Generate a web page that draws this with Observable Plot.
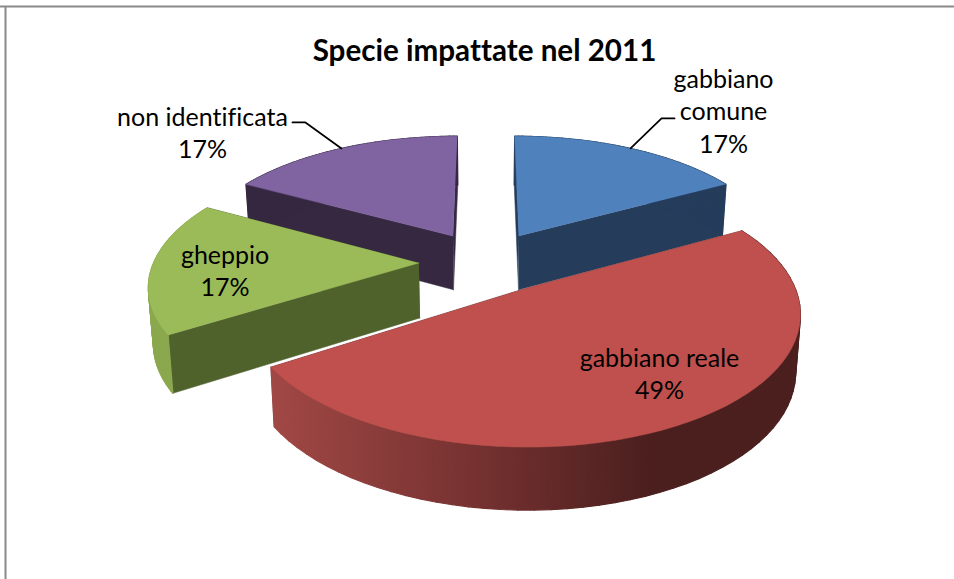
<!DOCTYPE html>
<html><head><meta charset="utf-8">
<style>html,body{margin:0;padding:0;background:#fff}svg{display:block}</style>
<script src="https://cdn.jsdelivr.net/npm/d3@7"></script>
<script src="https://cdn.jsdelivr.net/npm/@observablehq/plot@0.6"></script>
</head><body><div id="chart"></div>
<script>
const title = "Specie impattate nel 2011";
const categories = ["gabbiano comune", "gabbiano reale", "gheppio", "non identificata"];
const labelLines = ["gabbiano\ncomune", "gabbiano reale", "gheppio", "non identificata"];
const shares = [17, 49, 17, 17];
const topColors = ["#4F81BD", "#C0504D", "#9BBB59", "#8064A2"];
const cutColors = ["#253D5B", "#5A2322", "#4F622C", "#352840"];
const wallColors = ["#253D5B", "url(#redWall)", "#8BA84F", "#352840"];
const drawOrder = [3, 0, 2, 1];

// layout of the tilted, exploded disc
const W = 954, H = 579;
const view = {cx: 485.5, cy: 261.4, rx: 265, ry: 123, tilt: 0.157, explode: 0.253,
              depth: 55, depthTilt: 0.105, baseScale: 0.985};
// label offsets from the rim point at each slice's bisector
const labelOffset = [[93, -38.5], [-30, -49], [73, 3], [-139, -17]];
const leaderOffset = [[[31, -30], [44, -30]], null, null, [[-36, -26], [-49, -26]]];

const pie = d3.pie().sort(null).value(d => d)(shares);
const toTop = (U, V) => {
  const w = 1 - view.tilt * V;
  return {x: view.cx + view.rx * U / w, y: view.cy + view.ry * V / w, V};
};
const toBase = p => ({
  x: view.cx + (p.x - view.cx) * view.baseScale,
  y: p.y + view.depth / (1 - view.depthTilt * p.V)
});
const rim = (s, a, r = 1) => {
  const mid = (s.startAngle + s.endAngle) / 2;
  return toTop(r * Math.sin(a) + view.explode * Math.sin(mid),
               -r * Math.cos(a) - view.explode * Math.cos(mid));
};
const arcPts = s => d3.range(0, 61).map(k =>
  rim(s, s.startAngle + (s.endAngle - s.startAngle) * k / 60));
const poly = (pts, fill, strokeWidth = 0.5) => Plot.line(pts, {x: "x", y: "y", z: "q", fill, stroke: fill, strokeWidth});

// the outer wall is a strip of closed quads so that its silhouette follows the extrusion
const wallStrip = arc => arc.slice(1).flatMap((p, k) => {
  const a = arc[k];
  return [a, p, toBase(p), toBase(a), a].map(c => ({x: c.x, y: c.y, q: k}));
});

const sliceMarks = drawOrder.flatMap(i => {
  const s = pie[i];
  const apex = rim(s, 0, 0);
  const arc = arcPts(s);
  const first = arc[0], last = arc[arc.length - 1];
  return [
    poly([apex, last, toBase(last), toBase(apex)], cutColors[i]),
    poly([apex, first, toBase(first), toBase(apex)], cutColors[i]),
    poly(wallStrip(arc), wallColors[i], 1.2),
    poly([apex, ...arc], topColors[i])
  ];
});

const bisect = s => rim(s, (s.startAngle + s.endAngle) / 2);
const labelMarks = pie.map((s, i) => {
  const a = bisect(s);
  return Plot.text([`${labelLines[i]}\n${shares[i]}%`], {
    x: () => a.x + labelOffset[i][0],
    y: () => a.y + labelOffset[i][1],
    text: d => d, textAnchor: "middle", lineAnchor: "middle", lineHeight: 1.3,
    fontFamily: "Lato", fontSize: 25, fill: "#000"
  });
});
const leaderMarks = pie.flatMap((s, i) => {
  if (!leaderOffset[i]) return [];
  const a = bisect(s);
  const pts = [a, ...leaderOffset[i].map(([dx, dy]) => ({x: a.x + dx, y: a.y + dy}))];
  return [Plot.line(pts, {x: "x", y: "y", stroke: "#000", strokeWidth: 1.7})];
});

const redGradient = () => {
  const svgNS = "http://www.w3.org/2000/svg";
  const defs = document.createElementNS(svgNS, "defs");
  const g = document.createElementNS(svgNS, "linearGradient");
  const [x0, x1] = d3.extent(arcPts(pie[1]), d => d.x);
  g.setAttribute("id", "redWall");
  g.setAttribute("gradientUnits", "userSpaceOnUse");
  g.setAttribute("x1", x0); g.setAttribute("x2", x1);
  g.setAttribute("y1", 0); g.setAttribute("y2", 0);
  [[0, "#A14845"], [0.43, "#702F2E"], [0.72, "#4A1F1E"], [1, "#4A1F1E"]].forEach(([o, c]) => {
    const st = document.createElementNS(svgNS, "stop");
    st.setAttribute("offset", o); st.setAttribute("stop-color", c);
    g.appendChild(st);
  });
  defs.appendChild(g);
  return defs;
};

const chart = Plot.plot({
  width: W, height: H, margin: 0,
  style: {background: "#fff", fontVariantLigatures: "none"},
  x: {domain: [0, W], range: [0, W], axis: null},
  y: {domain: [0, H], range: [0, H], axis: null},
  marks: [
    redGradient,
    Plot.ruleY([6], {stroke: "#8a8a8a", strokeWidth: 2}),
    Plot.ruleX([5], {y1: 6, y2: H, stroke: "#8a8a8a", strokeWidth: 2}),
    ...sliceMarks,
    ...leaderMarks,
    ...labelMarks,
    Plot.text([title], {frameAnchor: "top", dx: 7, dy: 39, fontFamily: "Lato", fontWeight: "bold", fontSize: 29.6, fill: "#000"})
  ]
});
document.getElementById("chart").appendChild(chart);
</script>
</body></html>
